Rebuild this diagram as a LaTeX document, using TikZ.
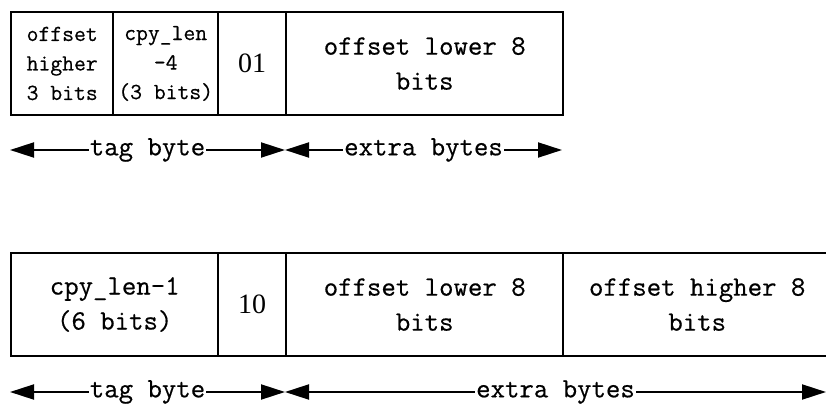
\documentclass[tikz,border=0pt]{standalone}
\usepackage{fontspec}
\newfontfamily\numfont{Liberation Serif}
\newfontfamily\boxmono{Latin Modern Mono}[FakeBold=0.5]
\usetikzlibrary{arrows.meta}
\tikzset{
  cell/.style={draw, line width=2.4pt, minimum height=103pt, inner sep=0pt, align=center, anchor=west},
  small/.style={font=\fontsize{23}{29.5}\selectfont\boxmono\bfseries},
  big/.style={font=\fontsize{28}{35}\selectfont\boxmono\bfseries},
  num/.style={font=\fontsize{28}{30}\selectfont\numfont},
  span/.style={{Triangle[length=24pt,width=15pt]}-{Triangle[length=24pt,width=15pt]}, line width=2pt},
  lbl/.style={fill=white, inner sep=1pt, font=\fontsize{28}{35}\selectfont\boxmono\bfseries}
}
\begin{document}
\begin{tikzpicture}[x=1pt,y=1pt]
\useasboundingbox (0,0) rectangle (826,404);
% row 1
\node[cell, small, minimum width=102pt] (a1) at (10,340.5) {offset\\higher\\3 bits};
\node[cell, small, minimum width=105pt] (a2) at (112,340.5) {cpy\_len\\-4\\(3 bits)};
\node[cell, num, minimum width=68pt] (a3) at (217,340.5) {01};
\node[cell, big, minimum width=277pt] (a4) at (285,340.5) {offset lower 8\\bits};
\coordinate (p1) at (10,254);
\coordinate (p2) at (285,254);
\coordinate (p3) at (562,254);
\draw[span] (p1) -- (p2) node[midway, lbl] (l1) {tag byte};
\draw[span] (p2) -- (p3) node[midway, lbl] (l2) {extra bytes};
% row 2
\node[cell, big, minimum width=207pt] (b1) at (10,99.5) {cpy\_len-1\\(6 bits)};
\node[cell, num, minimum width=68pt] (b2) at (217,99.5) {10};
\node[cell, big, minimum width=277pt] (b3) at (285,99.5) {offset lower 8\\bits};
\node[cell, big, minimum width=268pt] (b4) at (562,99.5) {offset higher 8\\bits};
\coordinate (q1) at (10,12);
\coordinate (q2) at (285,12);
\coordinate (q3) at (826,12);
\draw[span] (q1) -- (q2) node[midway, lbl] (l3) {tag byte};
\draw[span] (q2) -- (q3) node[midway, lbl] (l4) {extra bytes};
\end{tikzpicture}
\end{document}
